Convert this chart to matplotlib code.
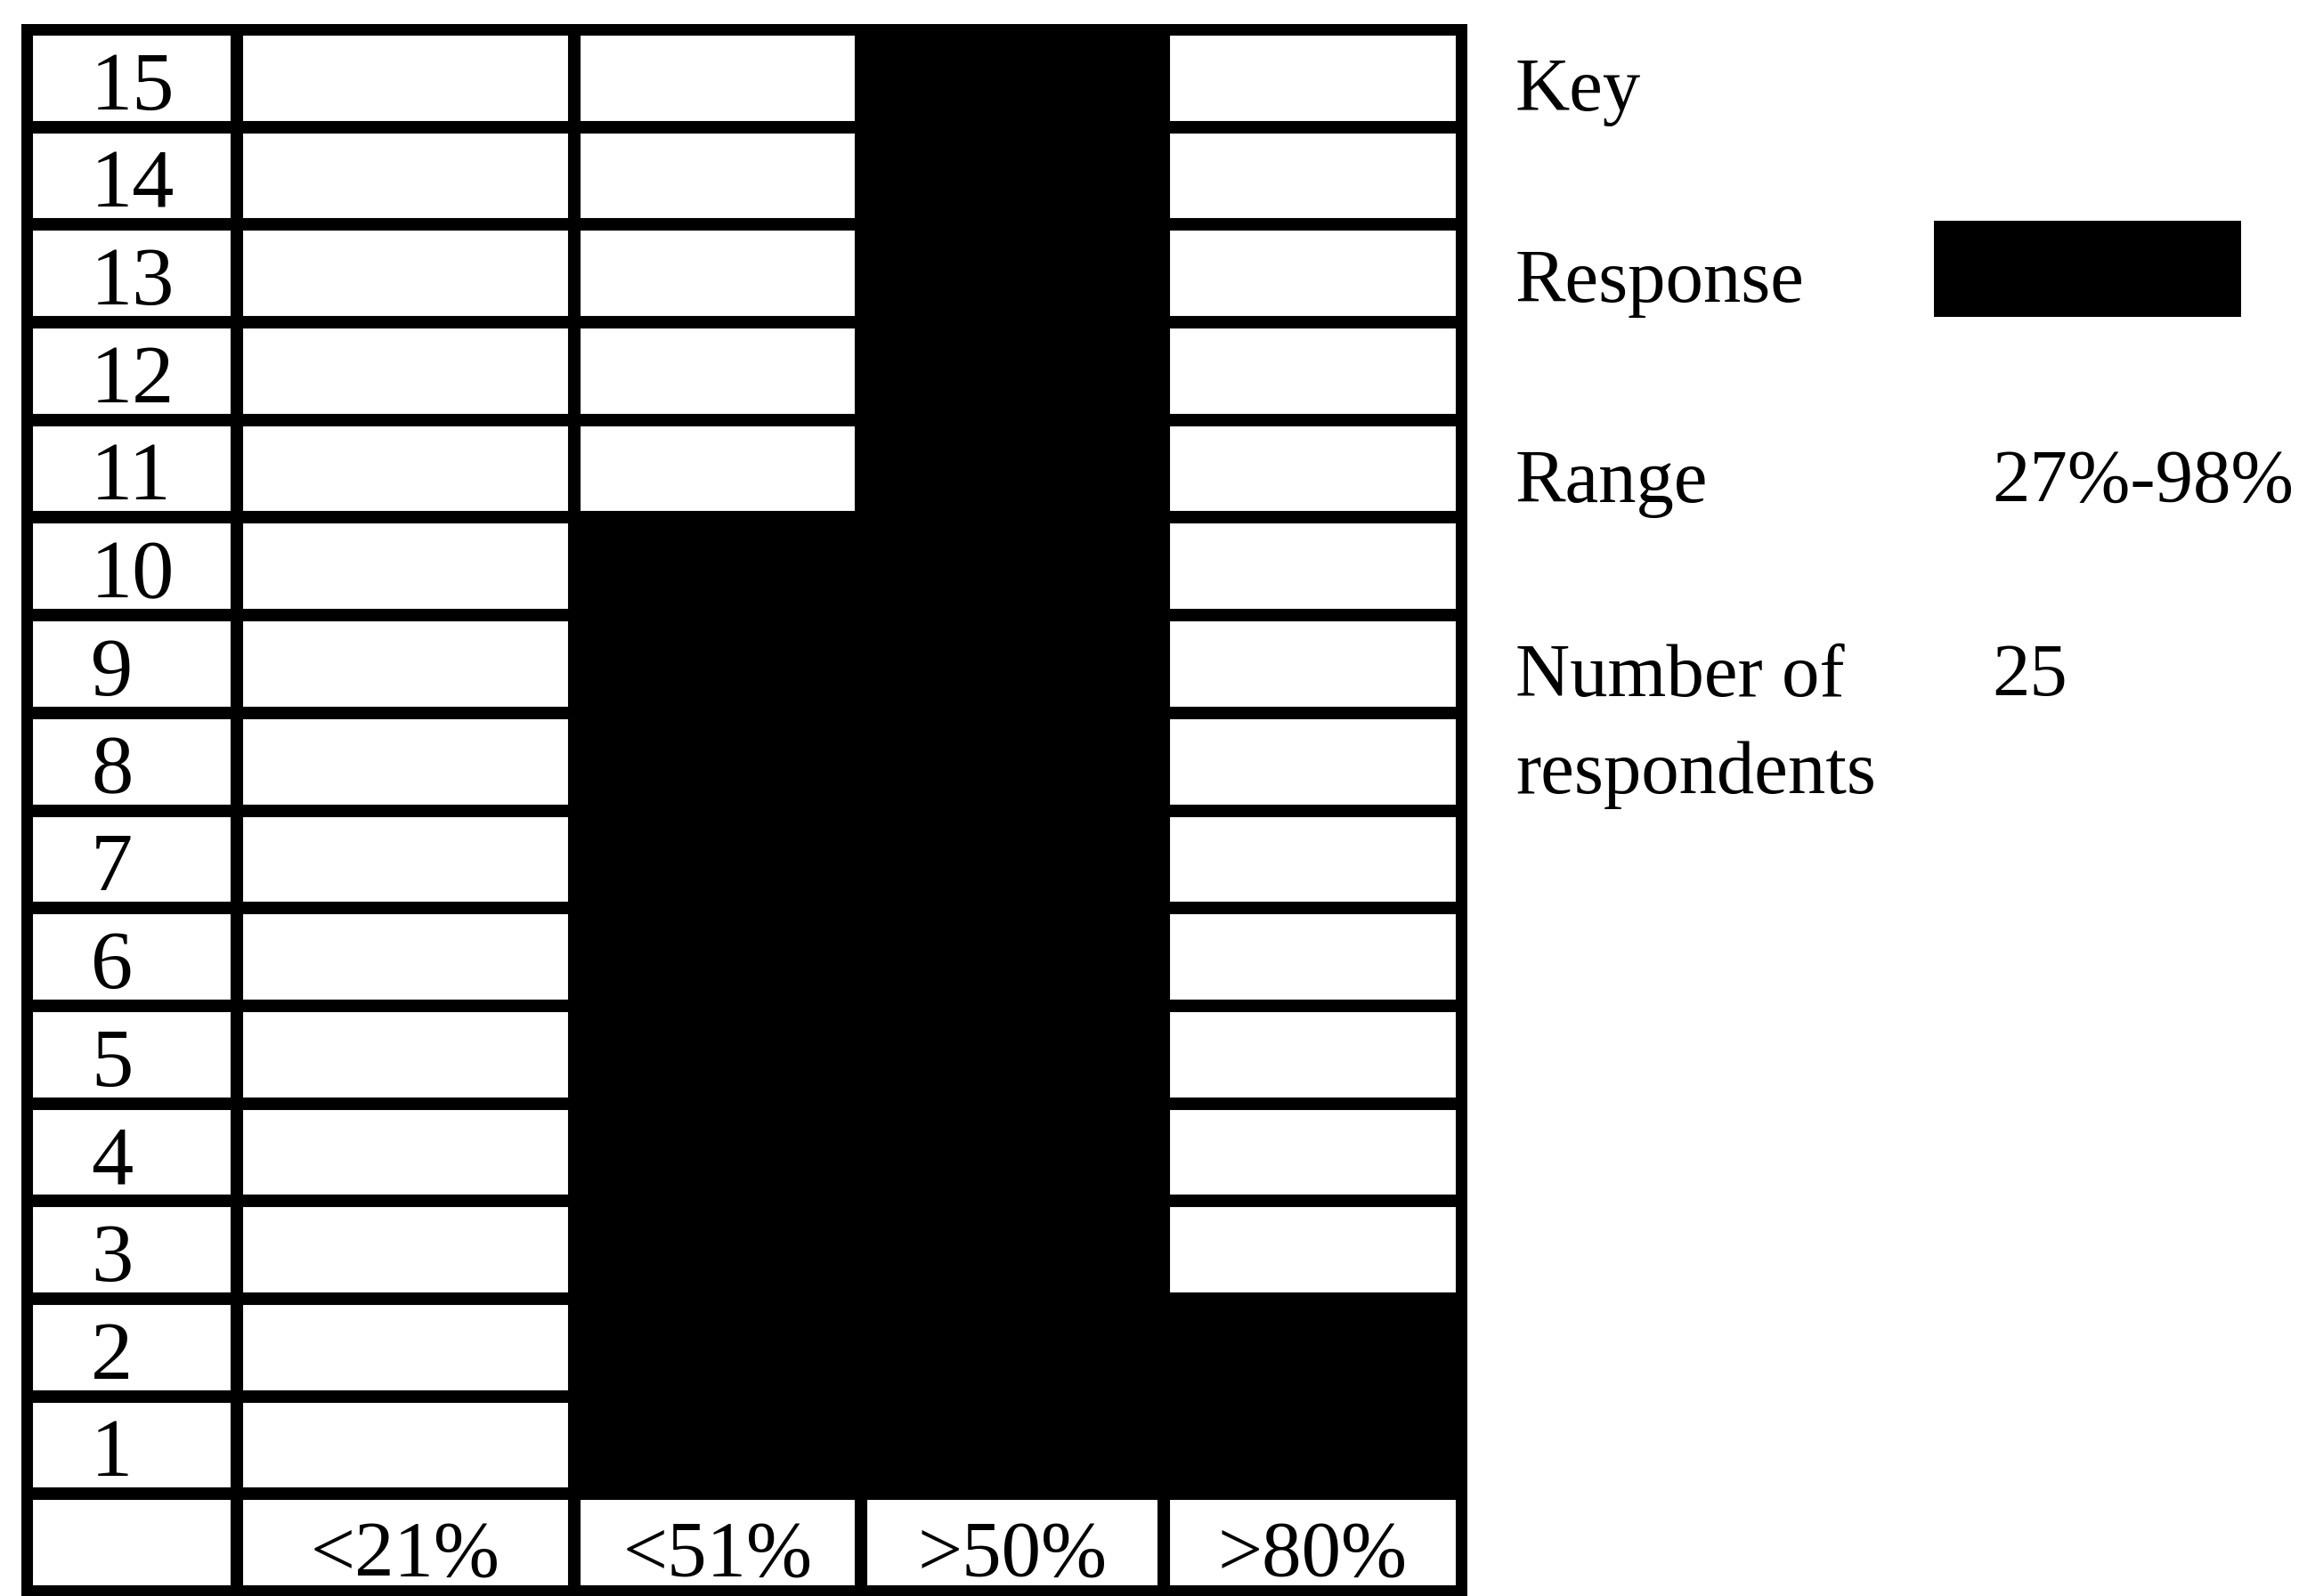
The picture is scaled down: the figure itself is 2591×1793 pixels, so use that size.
import matplotlib.pyplot as plt
from matplotlib.patches import Rectangle

plt.rcParams['font.family'] = ['Liberation Serif', 'DejaVu Serif']

# statements 1..15 (bottom to top) and the response bands
row_labels = ['1', '2', '3', '4', '5', '6', '7', '8', '9', '10', '11', '12', '13', '14', '15']
categories = ['<21%', '<51%', '>50%', '>80%']
# band index (0 = '<21%') where each statement's response bar starts / ends
bar_start = [1, 1, 1, 1, 1, 1, 1, 1, 1, 1, 2, 2, 2, 2, 2]
bar_end = [3, 3, 2, 2, 2, 2, 2, 2, 2, 2, 2, 2, 2, 2, 2]

key_title = 'Key'
key_names = [['Response'], ['Range'], ['Number of', 'respondents']]
key_values = [None, '27%-98%', '25']

# layout (pixel units, y downwards)
W, H = 2591, 1793
col_edges = [30, 266, 645, 967, 1307, 1642]
top, bottom = 33, 1788
pad = 6
n_rows = len(row_labels) + 1
row_h = (bottom - top) / n_rows

fig = plt.figure(figsize=(W / 100, H / 100), dpi=100)
ax = fig.add_axes([0, 0, 1, 1])
ax.set_xlim(0, W)
ax.set_ylim(H, 0)
ax.axis('off')

# black table background, white boxes punched out for empty cells
ax.add_patch(Rectangle((col_edges[0] - pad, top - pad), col_edges[-1] - col_edges[0] + 2 * pad,
                       bottom - top + 2 * pad, color='black', lw=0))


def white_cell(ci, ri):
    x0, x1 = col_edges[ci], col_edges[ci + 1]
    y0 = top + ri * row_h
    ax.add_patch(Rectangle((x0 + pad, y0 + pad), x1 - x0 - 2 * pad, row_h - 2 * pad,
                           facecolor='white', edgecolor='black', lw=1.5))
    return x0, x1, y0


for i, lab in enumerate(row_labels):
    ri = len(row_labels) - 1 - i  # row 1 at the bottom
    x0, x1, y0 = white_cell(0, ri)
    ax.text(x0 + 72, y0 + row_h - 20, lab, fontsize=68, ha='left', va='baseline')
    for c in range(len(categories)):
        if not (bar_start[i] <= c <= bar_end[i]):
            white_cell(c + 1, ri)

# header row at the bottom
white_cell(0, n_rows - 1)
for c, cat in enumerate(categories):
    x0, x1, y0 = white_cell(c + 1, n_rows - 1)
    ax.text((x0 + x1) / 2, y0 + row_h - 18, cat, fontsize=64, ha='center', va='baseline')

# key
kx, vx = 1702, 2237
ax.text(kx, 124, key_title, fontsize=61, va='baseline')
ys = [339, 564, 782]
for names, val, y in zip(key_names, key_values, ys):
    for j, line in enumerate(names):
        ax.text(kx, y + j * 109, line, fontsize=61, va='baseline')
    if val is None:
        ax.add_patch(Rectangle((2172, y - 91), 345, 108, color='black', lw=0))
    else:
        ax.text(vx, y, val, fontsize=61, va='baseline')

fig.savefig('out.png', dpi=100, facecolor='white')
